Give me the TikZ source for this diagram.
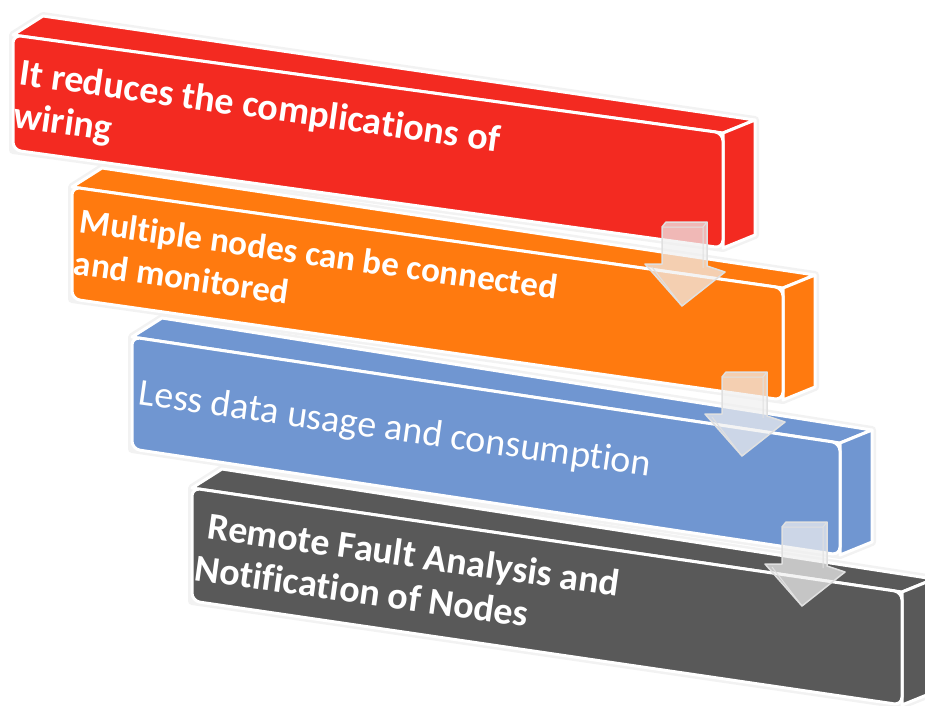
\documentclass[tikz,border=0pt]{standalone}
\usepackage{fontspec}
\setmainfont{Carlito}[Ligatures={NoCommon,NoRequired}]

\begin{document}
\begin{tikzpicture}[x=1pt,y=-1pt,
  face/.style={draw=white,line width=3pt,line join=round},
  halo/.style={draw=black!5,line width=8pt,line join=round},
  bartext/.style={text=white,anchor=north west,inner sep=0pt,align=left,rotate=-8,font=\fontsize{38}{43}\selectfont\bfseries},
  downarrow/.style={fill=black!6,fill opacity=0.72,draw=black!12,line width=1.5pt,line join=round}]
\definecolor{barred}{HTML}{F32A21}
\definecolor{barorange}{HTML}{FF7A0F}
\definecolor{barblue}{HTML}{7096D1}
\definecolor{bargray}{HTML}{595959}
\useasboundingbox (0,0) rectangle (925,705);
  \foreach \crlr/\L/\T/\R/\U/\H in {barred/13/35/723/133/115,barorange/72/187/783/288/112,barblue/132/337/840/443/112,bargray/192/488/902/592/113}
  {  \draw[halo] (\L,\T) -- (\L+30,\T-19) -- (\R+32,\U-13) -- (\R+32,\U+\H-13) -- (\R,\U+\H) -- (\L,\T+\H) -- cycle;
     \draw[face,fill=\crlr] (\L,\T) -- (\L+30,\T-19) -- (\R+32,\U-13) -- (\R,\U) -- cycle;
     \draw[face,fill=\crlr] (\R,\U) -- (\R+32,\U-13) -- (\R+32,\U+\H-13) -- (\R,\U+\H) -- cycle;
     \draw[face,fill=\crlr,rounded corners=8pt] (\L,\T) -- (\R,\U) -- (\R,\U+\H) -- (\L,\T+\H) -- cycle;}
\node[bartext] (wiring) at (22,58) {It reduces the complicat\kern0pt ions of\\wiring};
\node[bartext,font=\fontsize{35}{42}\selectfont\bfseries] (monitor) at (82,208) {Multiple nodes can be connected\\and monitored};
\node[bartext,font=\fontsize{38}{43}\selectfont] (usage) at (141,378) {Less data usage and consumpt\kern0pt ion};
\node[bartext] (fault) at (203,511) {\hspace{7pt}Remote Fault Analysis and\\Notificat\kern0pt ion of Nodes};
  \foreach \i in {0,1,2}
  {  \begin{scope}[shift={(60*\i,150*\i)}]
     \draw[downarrow] (662,227) -- (666,222) -- (707,222) -- (707,266) -- (725,272) -- (682,306) -- (645,264) -- (662,264) -- cycle;
     \draw[black!12,line width=1pt] (662,227) -- (703,227) -- (707,222) (703,227) -- (703,268) (652,267) -- (682,306);
     \end{scope}}
\end{tikzpicture}
\end{document}
